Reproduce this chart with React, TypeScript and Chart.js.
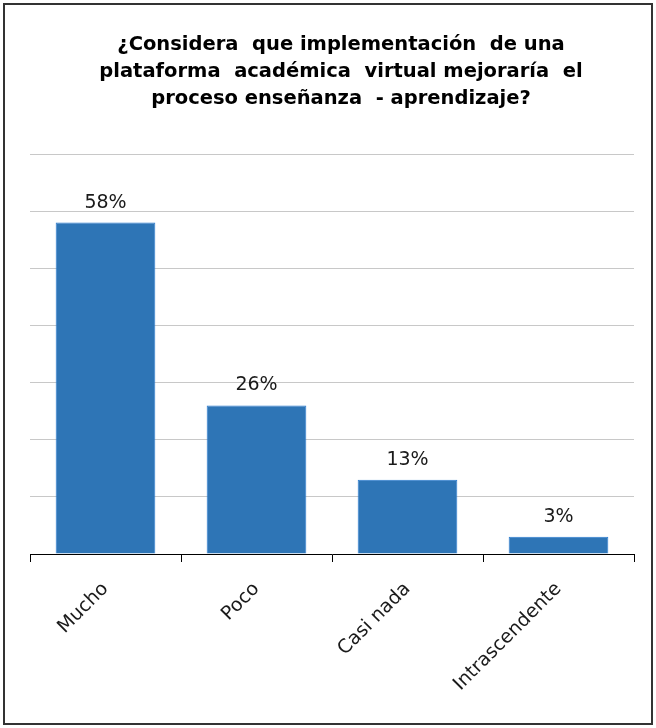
import React, { useEffect, useRef } from "react";
import { Chart, registerables } from "chart.js";

Chart.register(...registerables);

const titleLines = [
  "¿Considera  que implementación  de una",
  "plataforma  académica  virtual mejoraría  el",
  "proceso enseñanza  - aprendizaje?",
];
const categories = ["Mucho", "Poco", "Casi nada", "Intrascendente"];
const percentages = [58, 26, 13, 3];
const yMax = 70;
const yStep = 10;

const titlePlugin = {
  id: "customTitle",
  afterDraw(chart: any) {
    const ctx = chart.ctx;
    ctx.save();
    ctx.font = "bold 19.5px 'DejaVu Sans'";
    ctx.fillStyle = "#000000";
    ctx.textAlign = "center";
    ctx.textBaseline = "alphabetic";
    titleLines.forEach((line, i) => {
      ctx.fillText(line, 341, 50 + i * 27);
    });
    ctx.restore();
  },
};

const valueLabels = {
  id: "valueLabels",
  afterDatasetsDraw(chart: any) {
    const ctx = chart.ctx;
    const meta = chart.getDatasetMeta(0);
    ctx.save();
    ctx.font = "19px 'DejaVu Sans'";
    ctx.fillStyle = "#1a1a1a";
    ctx.textAlign = "center";
    ctx.textBaseline = "middle";
    meta.data.forEach((bar: any, i: number) => {
      ctx.fillText(percentages[i] + "%", bar.x, bar.y - 20);
    });
    ctx.restore();
  },
};

export default function App() {
  const ref = useRef<HTMLCanvasElement>(null);
  useEffect(() => {
    const chart = new Chart(ref.current!, {
      type: "bar",
      data: {
        labels: categories,
        datasets: [
          {
            data: percentages,
            backgroundColor: "#2E75B6",
            borderColor: "#2A7BD0",
            borderWidth: 1,
            barPercentage: 0.66,
            categoryPercentage: 1,
          },
        ],
      },
      options: {
        animation: false,
        responsive: false,
        maintainAspectRatio: false,
        layout: { padding: { left: 30, right: 22, top: 154, bottom: 0 } },
        plugins: {
          legend: { display: false },
          tooltip: { enabled: false },
          title: { display: false },
        },
        scales: {
          x: {
            afterFit: (scale: any) => {
              scale.height = 174;
            },
            grid: {
              offset: true,
              drawOnChartArea: false,
              drawTicks: true,
              tickLength: 8,
              color: "#000000",
            },
            border: { display: true, color: "#000000", width: 1 },
            ticks: {
              color: "#1a1a1a",
              font: { family: "'DejaVu Sans'", size: 19 },
              minRotation: 45,
              maxRotation: 45,
              padding: 16,
            },
          },
          y: {
            min: 0,
            max: yMax,
            ticks: { display: false, stepSize: yStep },
            grid: { color: "#C8C8C8", drawTicks: false, tickLength: 0 },
            border: { display: false },
          },
        },
      },
      plugins: [valueLabels, titlePlugin],
    });
    return () => chart.destroy();
  }, []);
  return (
    <div style={{ position: "absolute", left: 0, top: 0, width: 656, height: 728, background: "#fff" }}>
      <div
        style={{
          position: "absolute",
          left: 3,
          top: 3,
          width: 650,
          height: 722,
          border: "2px solid #333",
          boxSizing: "border-box",
        }}
      />
      <canvas ref={ref} width={656} height={728} style={{ position: "absolute", left: 0, top: 0 }} />
    </div>
  );
}
